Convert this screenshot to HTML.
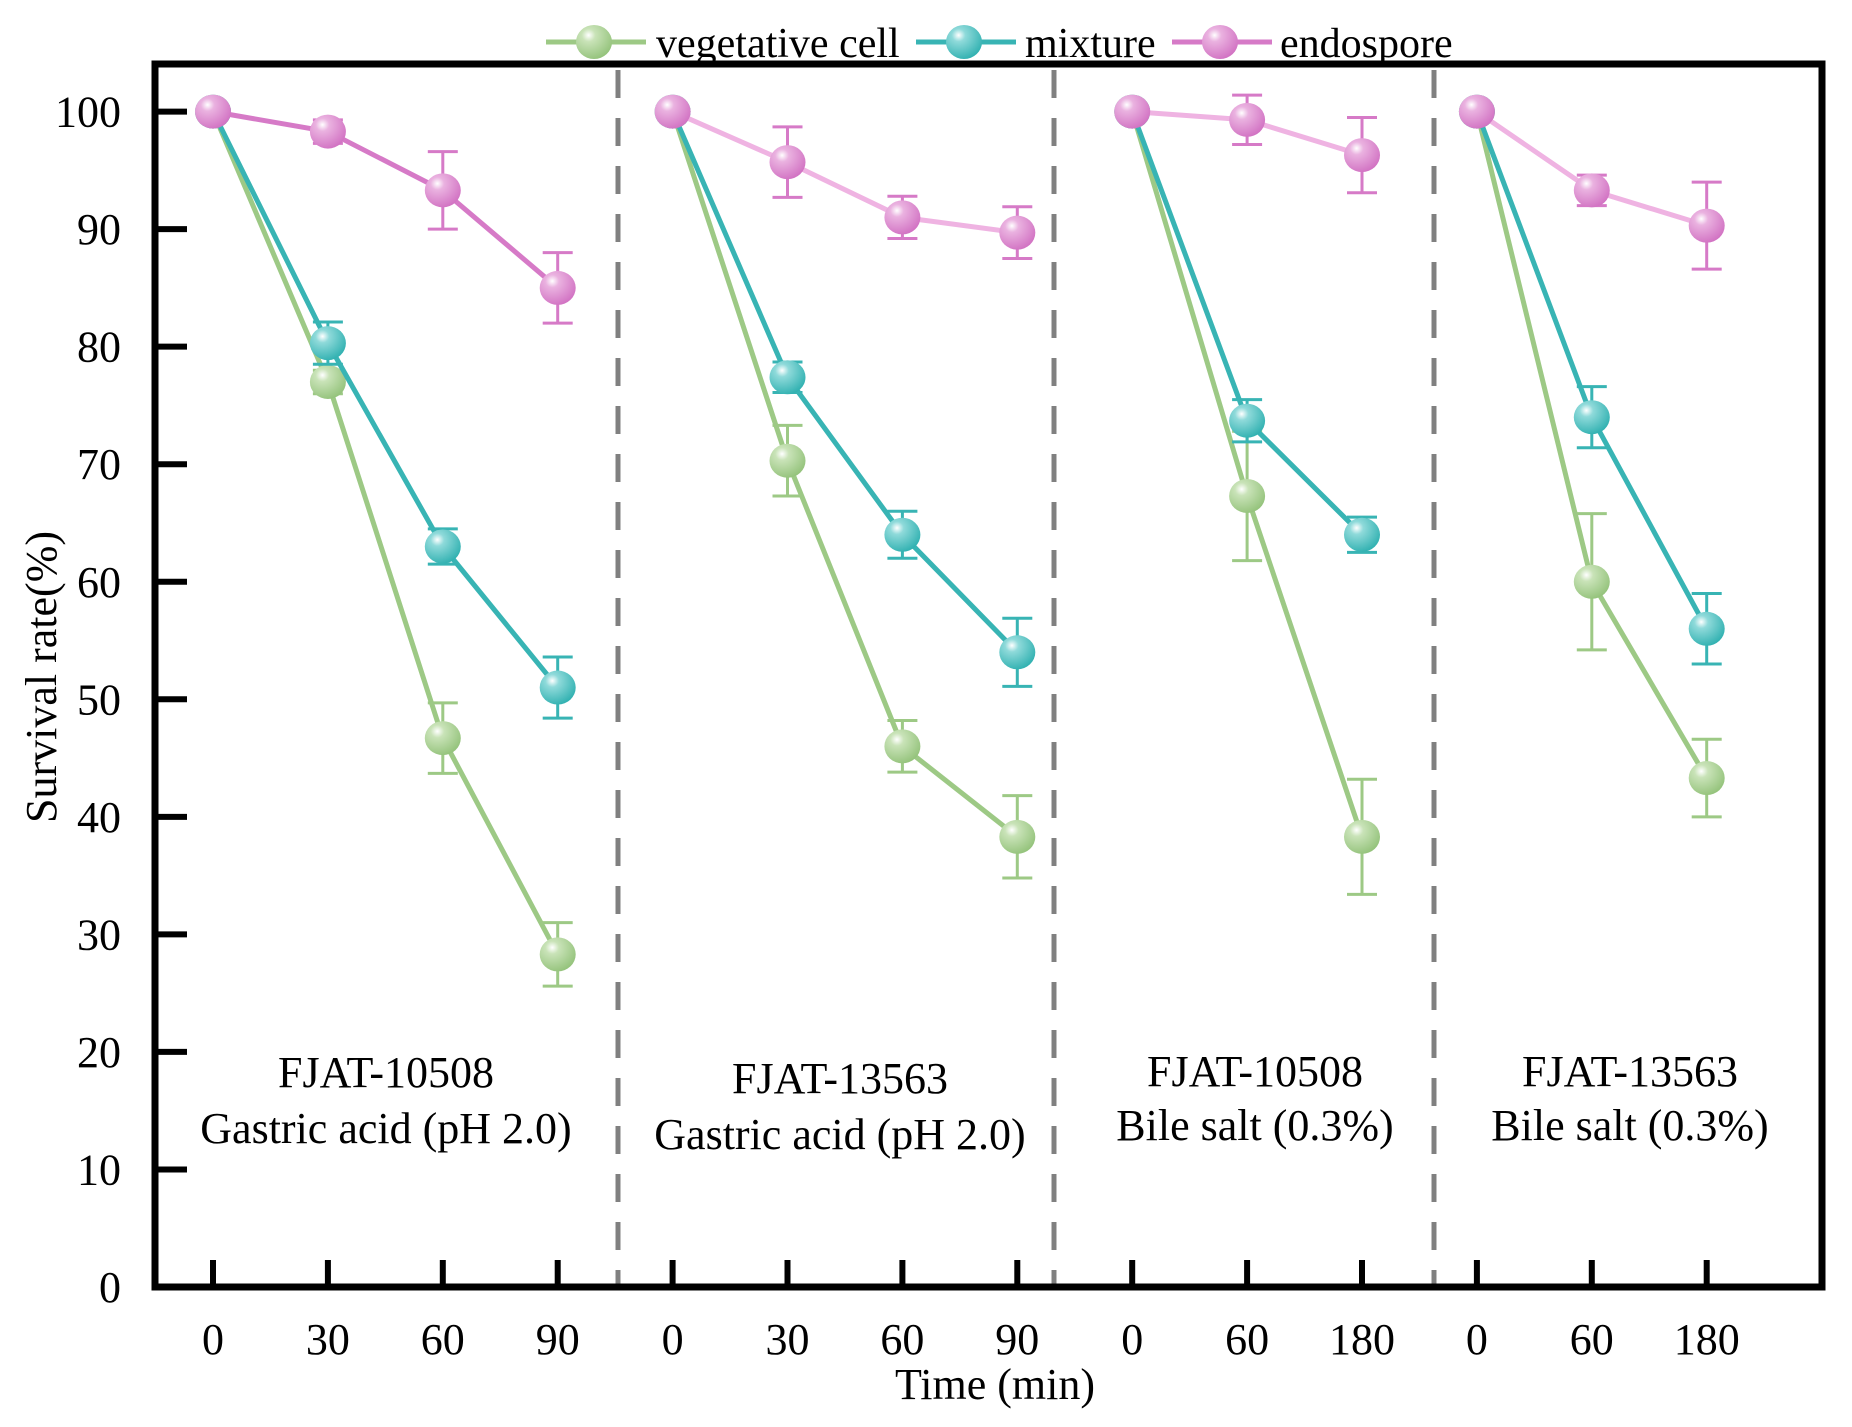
<!DOCTYPE html>
<html><head><meta charset="utf-8"><style>
html,body{margin:0;padding:0;background:#fff;}
svg{display:block;font-family:"Liberation Serif",serif;}
</style></head><body>
<svg id="chart" width="1852" height="1427" viewBox="0 0 1852 1427" xmlns="http://www.w3.org/2000/svg">
<defs>
<radialGradient id="gv" cx="0.35" cy="0.3" r="0.75"><stop offset="0" stop-color="#ffffff"/><stop offset="0.25" stop-color="#c9e3b8"/><stop offset="1" stop-color="#93c27a"/></radialGradient>
<radialGradient id="gm" cx="0.35" cy="0.3" r="0.75"><stop offset="0" stop-color="#ffffff"/><stop offset="0.25" stop-color="#8fdada"/><stop offset="1" stop-color="#2fb0b0"/></radialGradient>
<radialGradient id="ge" cx="0.35" cy="0.3" r="0.75"><stop offset="0" stop-color="#ffffff"/><stop offset="0.25" stop-color="#eab2e0"/><stop offset="1" stop-color="#d171c2"/></radialGradient>
</defs>
<g id="plot"></g>
</svg>
<script>
const xLabels = ["0","30","60","90","0","30","60","90","0","60","180","0","60","180"];
const yTicks = [0,10,20,30,40,50,60,70,80,90,100];
const panels = [[0,1,2,3],[4,5,6,7],[8,9,10],[11,12,13]];
const vegValues = [[100,77,46.7,28.3],[100,70.3,46,38.3],[100,67.3,38.3],[100,60,43.3]];
const vegErrors = [[0,1,3,2.7],[0,3,2.2,3.5],[0,5.5,4.9],[0,5.8,3.3]];
const mixValues = [[100,80.3,63,51],[100,77.4,64,54],[100,73.7,64],[100,74,56]];
const mixErrors = [[0,1.8,1.5,2.6],[0,1.3,2,2.9],[0,1.8,1.5],[0,2.6,3]];
const endoValues = [[100,98.3,93.3,85],[100,95.7,91,89.7],[100,99.3,96.3],[100,93.3,90.3]];
const endoErrors = [[0,1,3.3,3],[0,3,1.8,2.2],[0,2.1,3.2],[0,1.3,3.7]];
const panelLine1 = ["FJAT-10508","FJAT-13563","FJAT-10508","FJAT-13563"];
const panelLine2 = ["Gastric acid (pH 2.0)","Gastric acid (pH 2.0)","Bile salt (0.3%)","Bile salt (0.3%)"];

const L=155,R=1822,T=64,B=1287;
const X0=213,DX=114.9;
const x=i=>X0+DX*i;
const y=v=>B-(B-111.6)*v/100;
const g=document.getElementById('plot');
const NS='http://www.w3.org/2000/svg';
function mk(tag,attrs,parent){const e=document.createElementNS(NS,tag);for(const k in attrs)e.setAttribute(k,attrs[k]);(parent||g).appendChild(e);return e;}

[618,1054,1434].forEach((sx,i)=>{
  const e=mk('line',{x1:sx,x2:sx,y1:T+6,y2:B,stroke:'#808080','stroke-width':5,'stroke-dasharray':'28,20'});
  
  
});

yTicks.forEach(v=>{
  const t=mk('line',{x1:L,x2:L+32,y1:y(v),y2:y(v),stroke:'#000','stroke-width':6});
  
  
  const l=mk('text',{x:121,y:y(v)+15,'text-anchor':'end','font-size':44});
  
  
  l.textContent=v;
});
xLabels.forEach((s,i)=>{
  const t=mk('line',{x1:x(i),x2:x(i),y1:B,y2:B-27,stroke:'#000','stroke-width':6});
  
  
  const l=mk('text',{x:x(i),y:1354,'text-anchor':'middle','font-size':44});
  
  
  l.textContent=s;
});

const fr=mk('rect',{x:L,y:T,width:R-L,height:B-T,fill:'none',stroke:'#000','stroke-width':7});



const pcx=[386,840,1255,1630],py1=[1072,1078,1071,1071],py2=[1128,1134,1125,1125];
panelLine1.forEach((s,i)=>{
  const a=mk('text',{x:pcx[i],y:py1[i]+15,'text-anchor':'middle','font-size':44});
  
  
  a.textContent=s;
  const b=mk('text',{x:pcx[i],y:py2[i]+15,'text-anchor':'middle','font-size':44});
  
  
  b.textContent=panelLine2[i];
});

function series(vals,errs,color,fill,name,lineColors){
  panels.forEach((idx,p)=>{
    const pts=idx.map((xi,k)=>x(xi)+','+y(vals[p][k])).join(' ');
    const pl=mk('polyline',{points:pts,fill:'none',stroke:lineColors[p],'stroke-width':5,'stroke-linejoin':'round'});
    
    
  });
  panels.forEach((idx,p)=>{
    idx.forEach((xi,k)=>{
      const v=vals[p][k],e=errs[p][k];
      if(e>0){
        const eb=mk('path',{d:`M${x(xi)},${y(v+e)}V${y(v-e)}M${x(xi)-15},${y(v+e)}h30M${x(xi)-15},${y(v-e)}h30`,stroke:color,'stroke-width':3,fill:'none'});
        
        
      }
      const c=mk('ellipse',{cx:x(xi),cy:y(v),rx:18,ry:17,fill:fill});
      
      
    });
  });
}
series(vegValues,vegErrors,'#9dc985','url(#gv)','vegetative',['#9dc985','#9dc985','#9dc985','#9dc985']);
series(mixValues,mixErrors,'#38b4b4','url(#gm)','mixture',['#38b4b4','#38b4b4','#38b4b4','#38b4b4']);
series(endoValues,endoErrors,'#d67ac7','url(#ge)','endospore',['#d67ac7','#efb3e2','#efb3e2','#efb3e2']);

const yt=mk('text',{x:0,y:0,'text-anchor':'middle','font-size':44,transform:'translate(56,677) rotate(-90)'});


yt.textContent='Survival rate(%)';
const xt=mk('text',{x:995,y:1399,'text-anchor':'middle','font-size':44});


xt.textContent='Time (min)';

const leg=[['vegetative cell','#9dc985','url(#gv)',546,656],['mixture','#38b4b4','url(#gm)',916,1025],['endospore','#d67ac7','url(#ge)',1172,1280]];
leg.forEach(([t,c,f,lx,tx])=>{
  const ln=mk('line',{x1:lx,x2:lx+100,y1:42,y2:42,stroke:c,'stroke-width':5});
  
  
  const m=mk('ellipse',{cx:lx+48,cy:42,rx:18,ry:17,fill:f});
  
  
  const tt=mk('text',{x:tx,y:57,'font-size':42});
  
  
  tt.textContent=t;
});
</script>
</body></html>
